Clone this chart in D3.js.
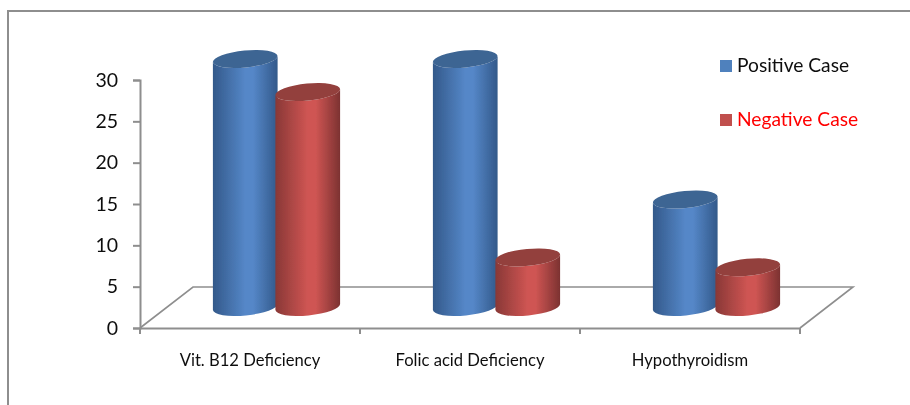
<!DOCTYPE html>
<html>
<head>
<meta charset="utf-8">
<script src="https://cdn.jsdelivr.net/npm/d3@7"></script>
<style>
    html, body { margin: 0; padding: 0; background: #fff; }
    svg { display: block; }
    text { font-family: Lato, "Open Sans", sans-serif; }
</style>
</head>
<body>
<svg id="chart"></svg>
<script>
// data
const categories = ["Vit. B12 Deficiency", "Folic acid Deficiency", "Hypothyroidism"];
const seriesNames = ["Positive Case", "Negative Case"];
const positiveCase = [30, 30, 13];
const negativeCase = [26, 6, 4.8];
const yTicks = [0, 5, 10, 15, 20, 25, 30];

const width = 910,
    height = 405,
    grey = "#8e8e8e";

let svg = d3.select("#chart")
    .attr("width", width)
    .attr("height", height)
    .attr("viewBox", `0 0 ${width} ${height}`);

let x0 = d3.scaleBand().domain(categories).range([140, 800]);
let x1 = d3.scaleBand().domain(seriesNames).range([74, 199]);
let y = d3.scaleLinear().domain([0, 30]).range([328, 80]);

// cylinders stand back from the front edge of the floor
const depthX = 53,
    depthY = 41,
    baseLift = 21,
    rx = 32.5,
    ry = 8.5,
    tilt = 5.5;

const colors = {
    "Positive Case": { left: "#33598a", mid: "#5587c8", right: "#33598a", top: "#3e6593", key: "#4f81bd", text: "#111" },
    "Negative Case": { left: "#893836", mid: "#cf5553", right: "#7c3231", top: "#933f3c", key: "#c0504d", text: "#ff0000" }
};

// gradients for the round sides
let defs = svg.append("defs");
seriesNames.forEach((name, i) => {
    let g = defs.append("linearGradient").attr("id", "side" + i);
    g.append("stop").attr("offset", "0%").attr("stop-color", colors[name].left);
    g.append("stop").attr("offset", "50%").attr("stop-color", colors[name].mid);
    g.append("stop").attr("offset", "62%").attr("stop-color", colors[name].mid);
    g.append("stop").attr("offset", "100%").attr("stop-color", colors[name].right);
});
defs.append("filter").attr("id", "soft")
    .append("feGaussianBlur").attr("stdDeviation", 0.35);

let page = svg.append("g").attr("filter", "url(#soft)");

// frame, only top and left show in the crop
page.append("path")
    .attr("d", `M8,405V11H910`)
    .attr("fill", "none")
    .attr("stroke", grey)
    .attr("stroke-width", 2);

// floor
let [fx0, fx1] = x0.range();
let fy = y(0);
page.append("path")
    .attr("d", `M${fx0},${fy}L${fx0 + depthX},${fy - depthY}H${fx1 + depthX}L${fx1},${fy}`)
    .attr("fill", "none")
    .attr("stroke", grey)
    .attr("stroke-width", 1.6);

// axes
let yAxis = page.append("g")
    .attr("transform", "translate(140,0)")
    .call(d3.axisLeft(y).tickValues(yTicks).tickSize(7).tickPadding(15));
let xAxis = page.append("g")
    .attr("transform", `translate(0,${fy})`)
    .call(d3.axisBottom(x0).tickSize(0).tickPadding(26));

// category ticks sit on the band edges
page.append("g").selectAll("line")
    .data(d3.range(4))
    .join("line")
    .attr("x1", i => fx0 + i * x0.step())
    .attr("x2", i => fx0 + i * x0.step())
    .attr("y1", fy)
    .attr("y2", fy + 6)
    .attr("stroke", grey)
    .attr("stroke-width", 2);

yAxis.selectAll("path, line").attr("stroke", grey).attr("stroke-width", 2);
xAxis.select("path").attr("stroke", grey).attr("stroke-width", 2);
yAxis.selectAll("text").attr("font-size", 19.5).attr("fill", "#111");
xAxis.selectAll("text").attr("font-size", 16.6).attr("fill", "#111");

// cylinders
const a = tilt * Math.PI / 180,
    dx = rx * Math.cos(a),
    dy = rx * Math.sin(a);

let rows = categories.flatMap((c, i) => [
    { category: c, series: seriesNames[0], value: positiveCase[i] },
    { category: c, series: seriesNames[1], value: negativeCase[i] }
]);

let bars = page.append("g").selectAll("g")
    .data(rows)
    .join("g")
    .attr("transform", d => `translate(${x0(d.category) + x1(d.series) + x1.bandwidth() / 2},0)`);

bars.append("path")
    .attr("fill", d => `url(#side${seriesNames.indexOf(d.series)})`)
    .attr("d", d => {
        let top = y(d.value) - baseLift,
            bottom = y(0) - baseLift;
        return `M${-dx},${top + dy}L${-dx},${bottom + dy}`
            + `A${rx},${ry} ${-tilt} 0 0 ${dx},${bottom - dy}`
            + `L${dx},${top - dy}`
            + `A${rx},${ry} ${-tilt} 0 1 ${-dx},${top + dy}Z`;
    });

bars.append("ellipse")
    .attr("rx", rx)
    .attr("ry", ry)
    .attr("fill", d => colors[d.series].top)
    .attr("transform", d => `translate(0,${y(d.value) - baseLift}) rotate(${-tilt})`);

// legend
let legend = page.append("g").selectAll("g")
    .data(seriesNames)
    .join("g")
    .attr("transform", (d, i) => `translate(720,${60 + i * 54})`);

legend.append("rect")
    .attr("width", 12)
    .attr("height", 12)
    .attr("fill", d => colors[d].key);

legend.append("text")
    .attr("x", 17)
    .attr("y", 12)
    .attr("font-size", 19.2)
    .attr("fill", d => colors[d].text)
    .text(d => d);
</script>
</body>
</html>
